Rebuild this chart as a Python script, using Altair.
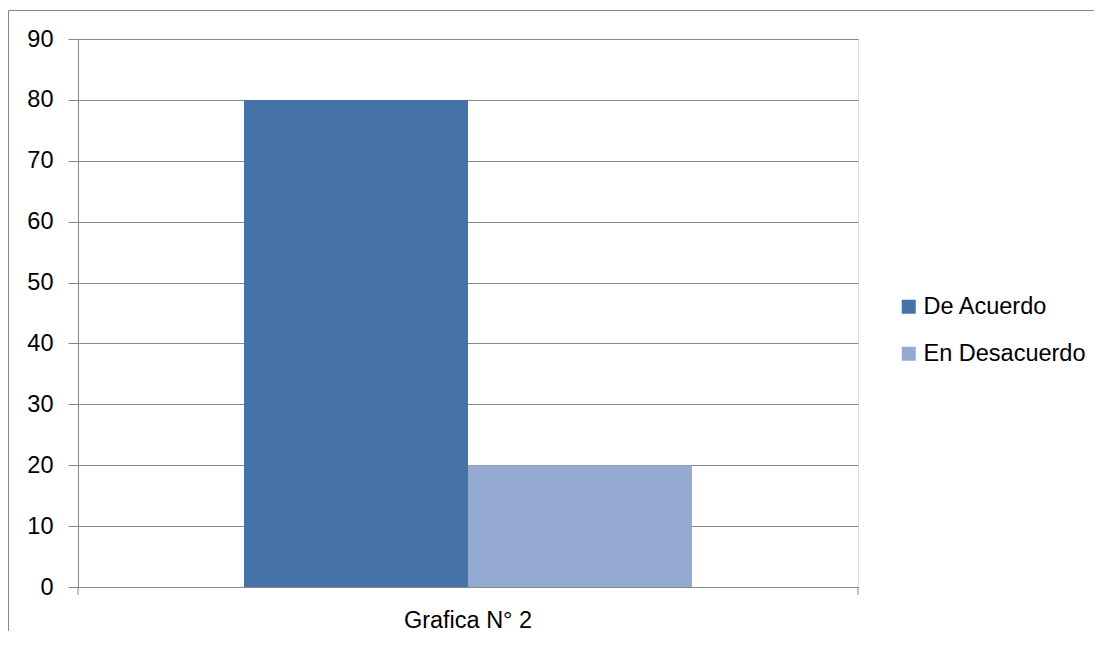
import altair as alt
import pandas as pd

category = ["Grafica N° 2", "Grafica N° 2"]
series = ["De Acuerdo", "En Desacuerdo"]
values = [80, 20]
colors = ["#4573A8", "#95AAD1"]
y_ticks = [0, 10, 20, 30, 40, 50, 60, 70, 80, 90]

FONT = "Liberation Sans, Arial, sans-serif"
FS = 23.5
GRID = "#888888"

df = pd.DataFrame({"cat": category, "serie": series, "valor": values})

bars = alt.Chart(df).mark_bar().encode(
    x=alt.X("cat:N", title=None,
            scale=alt.Scale(paddingInner=0, paddingOuter=0.3705),
            axis=alt.Axis(labelAngle=0, ticks=False, labelPadding=21,
                          domainColor=GRID, labelFont=FONT, labelFontSize=FS,
                          labelColor="#000000")),
    xOffset=alt.XOffset("serie:N", scale=alt.Scale(paddingInner=0, paddingOuter=0)),
    y=alt.Y("valor:Q", title=None,
            scale=alt.Scale(domain=[0, 90], nice=False),
            axis=alt.Axis(values=y_ticks, tickSize=10, tickColor=GRID, domainColor=GRID,
                          gridColor=GRID, grid=True, labelPadding=15,
                          labelFont=FONT, labelFontSize=FS, labelColor="#000000")),
    color=alt.Color("serie:N", sort=series,
                    scale=alt.Scale(domain=series, range=colors),
                    legend=alt.Legend(title=None, orient="none", legendX=819, legendY=256,
                                      symbolType="square", symbolSize=196,
                                      symbolStrokeWidth=0, labelFont=FONT,
                                      labelFontSize=FS, labelColor="#000000",
                                      labelOffset=3, rowPadding=22, padding=0,
                                      labelLimit=0)),
)

dummy = pd.DataFrame({"k": [0]})
edge_ticks = alt.Chart(dummy).mark_rule(color=GRID, strokeWidth=1).encode(
    x=alt.value(0), y=alt.value(548), y2=alt.value(556)
) + alt.Chart(dummy).mark_rule(color=GRID, strokeWidth=1).encode(
    x=alt.value(780), y=alt.value(548), y2=alt.value(556)
)

border = alt.Chart(dummy).mark_rect(fill=None, stroke=GRID, strokeWidth=1).encode(
    x=alt.value(-69.5), x2=alt.value(1300), y=alt.value(-28.5), y2=alt.value(900)
)

chart = alt.layer(bars, edge_ticks, border).properties(
    width=780, height=548,
    autosize=alt.AutoSizeParams(type="none"),
    padding={"left": 70, "top": 31, "right": 236, "bottom": 44},
).configure_view(stroke=None).configure(background="#ffffff")

chart.save("out.html", embed_options={"renderer": "svg", "actions": False})
